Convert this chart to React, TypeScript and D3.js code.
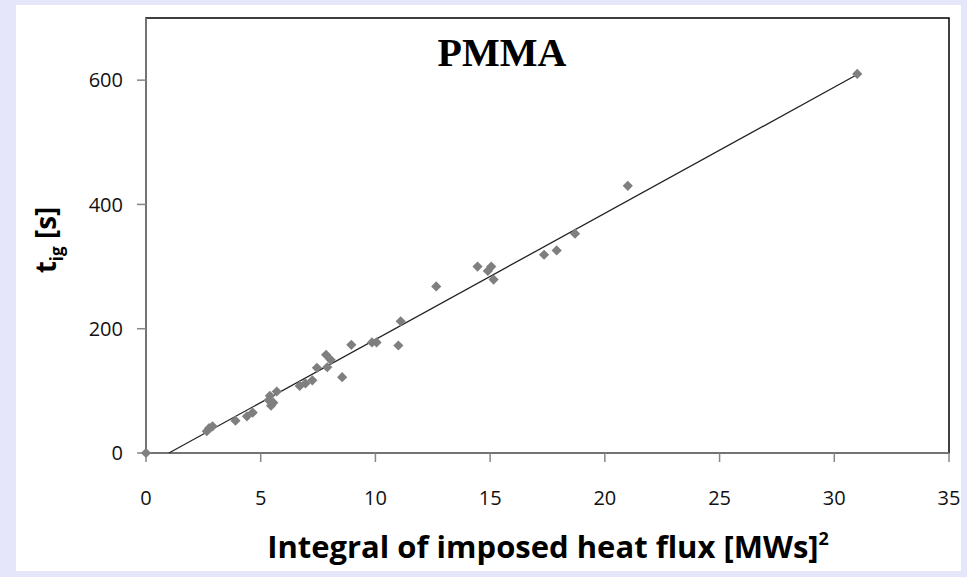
import React from "react";
import * as d3 from "d3";

const xValues = [0, 2.65, 2.75, 2.9, 3.9, 4.4, 4.65, 5.4, 5.45, 5.55, 5.7, 5.35, 6.7, 6.95, 7.25, 7.45, 7.85, 7.9, 8.05, 8.55, 8.95, 9.85, 10.05, 11.0, 11.1, 12.65, 14.45, 14.9, 15.05, 15.15, 17.35, 17.9, 18.7, 21.0, 31.0];
const yValues = [0, 35, 40, 43, 52, 59, 65, 92, 76, 81, 99, 85, 108, 112, 117, 137, 158, 138, 150, 122, 174, 178, 178, 173, 212, 268, 300, 293, 300, 279, 319, 326, 353, 430, 610];
const fitX = [1.0, 31.0];
const fitY = [0, 609];
const xTicks = [0, 5, 10, 15, 20, 25, 30, 35];
const yTicks = [0, 200, 400, 600];

const W = 967, H = 577;
const L = 146, R = 949, T = 18, B = 453;

export default function App() {
  const x = d3.scaleLinear().domain([0, 35]).range([L, R]);
  const y = d3.scaleLinear().domain([0, 700]).range([B, T]);
  const pts = xValues.map((v, i) => [v, yValues[i]] as [number, number]);
  const line = d3.line<[number, number]>().x(d => x(d[0])).y(d => y(d[1]));
  const fit = fitX.map((v, i) => [v, fitY[i]] as [number, number]);
  const sym = d3.symbol().type(d3.symbolSquare).size(52)();
  const tickFont = "'Open Sans', sans-serif";
  return (
    <svg width={W} height={H} style={{ position: "fixed", left: 0, top: 0 }}>
      <rect x={0} y={0} width={W} height={H} fill="#e6e6fa" />
      <rect x={16} y={5} width={945} height={566} fill="#ffffff" />
      <rect x={L} y={T} width={R - L} height={B - T} fill="#fff" stroke="#000" strokeWidth={1.5} />
      <line x1={L} x2={L} y1={T} y2={B} stroke="#868686" strokeWidth={1.5} />
      <line x1={L} x2={R} y1={B} y2={B} stroke="#868686" strokeWidth={1.5} />
      {yTicks.map(t => (
        <g key={"y" + t}>
          <line x1={L - 9} x2={L} y1={y(t)} y2={y(t)} stroke="#868686" strokeWidth={1.5} />
          <text x={123} y={y(t)} dy="0.36em" textAnchor="end" fontFamily={tickFont} fontSize={20} fill="#111">{t}</text>
        </g>
      ))}
      {xTicks.map(t => (
        <g key={"x" + t}>
          <line x1={x(t)} x2={x(t)} y1={B} y2={B + 9} stroke="#868686" strokeWidth={1.5} />
          <text x={x(t)} y={498} dy="0.36em" textAnchor="middle" fontFamily={tickFont} fontSize={20} fill="#111">{t}</text>
        </g>
      ))}
      <path d={line(fit) || ""} fill="none" stroke="#222" strokeWidth={1.3} />
      {pts.map((p, i) => (
        <path key={i} d={sym || ""} transform={`translate(${x(p[0])},${y(p[1])}) rotate(45)`} fill="#7f7f7f" />
      ))}
      <text x={502} y={66} textAnchor="middle" fontFamily="'Liberation Serif', 'Times New Roman', serif" fontWeight="bold" fontSize={40} fill="#000">PMMA</text>
      <text x={548} y={558} textAnchor="middle" fontFamily={tickFont} fontWeight="bold" fontSize={31} fill="#000">
        Integral of imposed heat flux [MWs]<tspan fontSize={18} dy={-13}>2</tspan>
      </text>
      <text transform="translate(56,240) rotate(-90)" textAnchor="middle" fontFamily={tickFont} fontWeight="bold" fontSize={28} fill="#000">
        t<tspan fontSize={17} dy={7}>ig</tspan><tspan dy={-7}> [s]</tspan>
      </text>
    </svg>
  );
}
